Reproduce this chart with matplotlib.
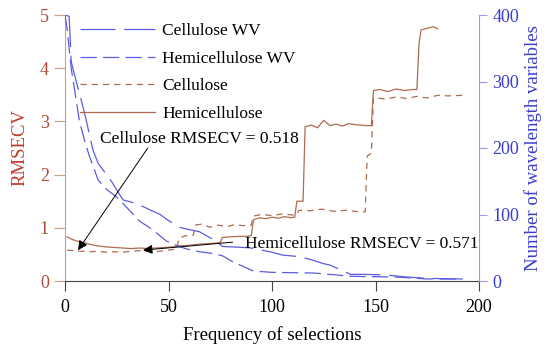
import numpy as np
from matplotlib import pyplot as plt

plt.rcParams['font.family'] = ['Liberation Serif', 'DejaVu Serif']

# RMSECV curves (left axis)
hemi_f = [1, 3, 5, 7, 10, 13, 16, 20, 24, 28, 32, 36, 40, 44, 48, 52, 56, 60, 64, 68, 72, 75,
          76, 80, 84, 88, 90, 91, 94, 97, 100, 103, 106, 109, 111, 112, 115, 116, 119, 122, 125,
          128, 131, 134, 137, 140, 143, 146, 148, 149, 152, 156, 160, 164, 168, 170, 171, 172,
          175, 178, 180]
hemi_r = [0.83, 0.79, 0.76, 0.74, 0.71, 0.68, 0.66, 0.64, 0.63, 0.62, 0.61, 0.62, 0.61, 0.62,
          0.63, 0.64, 0.66, 0.67, 0.69, 0.70, 0.71, 0.72, 0.82, 0.83, 0.84, 0.84, 0.85, 1.15,
          1.19, 1.17, 1.20, 1.18, 1.21, 1.19, 1.20, 1.50, 1.50, 2.90, 2.93, 2.88, 3.02, 2.92,
          2.95, 2.91, 2.96, 2.94, 2.93, 2.92, 2.92, 3.58, 3.60, 3.56, 3.61, 3.58, 3.60, 3.60,
          4.45, 4.72, 4.75, 4.78, 4.74]
cell_f = [1, 4, 8, 12, 16, 20, 24, 28, 32, 36, 40, 44, 48, 52, 54, 55, 58, 62, 63, 66, 70, 74,
          78, 82, 86, 90, 91, 95, 100, 105, 110, 112, 113, 118, 124, 130, 136, 142, 145, 146,
          148, 149, 155, 160, 165, 170, 175, 180, 185, 192]
cell_r = [0.58, 0.57, 0.56, 0.55, 0.56, 0.54, 0.55, 0.54, 0.56, 0.57, 0.56, 0.55, 0.57, 0.59,
          0.60, 0.80, 0.85, 0.86, 1.05, 1.07, 1.01, 1.05, 1.02, 1.06, 1.04, 1.05, 1.22, 1.25,
          1.23, 1.26, 1.24, 1.25, 1.33, 1.32, 1.35, 1.31, 1.33, 1.30, 1.30, 2.35, 2.40, 3.45,
          3.42, 3.46, 3.43, 3.47, 3.44, 3.49, 3.48, 3.49]

# number of wavelength variables (right axis)
cwv_f = [0, 2, 3, 5, 8, 10, 13.5, 16, 22, 28, 35, 41, 46, 49, 55, 59, 65, 73, 76, 89, 99, 105,
         112, 118, 125, 128, 138, 145, 155, 165, 175, 192]
cwv_n = [400, 398, 330, 305, 270, 245, 197, 177, 152, 122, 116, 107, 100, 93, 81, 78, 74, 60,
         52, 50, 44, 39, 37, 33, 26, 24, 10, 10, 9, 6, 4, 3]
hwv_f = [0, 1, 3, 5, 7, 10, 12, 16, 20, 25, 30, 36, 42, 49, 55, 59, 65, 70, 76, 81, 86, 91,
         100, 120, 139, 160, 175, 192]
hwv_n = [400, 380, 320, 280, 240, 205, 186, 152, 138, 126, 110, 90, 78, 60, 52, 48, 44, 42,
         38, 29, 22, 15, 13, 12, 7, 6, 3, 3]

red = '#b06a50'
blue = '#5c5ce0'

fig = plt.figure(figsize=(5.5, 3.48), dpi=100)
ax = fig.add_axes([65/550, 67/348, 414/550, 266/348])
ax2 = ax.twinx()

l3, = ax.plot(cell_f, cell_r, color=red, lw=0.9, dashes=(5, 4), label='Cellulose')
l4, = ax.plot(hemi_f, hemi_r, color=red, lw=0.9, label='Hemicellulose')
l1, = ax2.plot(cwv_f, cwv_n, color=blue, lw=0.9, dashes=(28, 7), label='Cellulose WV')
l2, = ax2.plot(hwv_f, hwv_n, color=blue, lw=0.9, dashes=(13, 5), label='Hemicellulose WV')

ax.set_xlim(0, 200)
ax.set_ylim(0, 5)
ax2.set_ylim(0, 400)
ax.set_xticks([0, 50, 100, 150, 200])
ax.set_yticks([0, 1, 2, 3, 4, 5])
ax2.set_yticks([0, 100, 200, 300, 400])

for a in (ax, ax2):
    a.spines['top'].set_visible(False)
ax.spines['right'].set_visible(False)
ax2.spines['left'].set_visible(False)
ax2.spines['bottom'].set_visible(False)
ax.spines['left'].set_color('#c8a08c')
ax.spines['bottom'].set_color('#444444')
ax2.spines['right'].set_color('#9a9aee')

ax.tick_params(axis='x', direction='out', length=7, width=0.8, colors='#444444',
               labelsize=13, labelcolor='black', pad=6)
ax.tick_params(axis='y', direction='out', length=8, width=0.8, colors='#c8a08c',
               labelsize=13, labelcolor='#b04a3a')
ax2.tick_params(axis='y', direction='out', length=6, width=0.8, colors='#9a9aee',
                labelsize=13, labelcolor='#3b3bd0')

ax.set_xlabel('Frequency of selections', fontsize=13.5, labelpad=7)
ax.set_ylabel('RMSECV', fontsize=13.5, color='#c0392b', labelpad=8)
ax2.set_ylabel('Number of wavelength variables', fontsize=13.5, color='#3b3bd0', labelpad=4)

ax2.legend(handles=[l1, l2, l3, l4], loc='upper left', bbox_to_anchor=(0.036, 0.97),
           frameon=False, fontsize=12.5, handlelength=4.3, handletextpad=0.45,
           labelspacing=0.66, borderpad=0, borderaxespad=0)

ax2.text(17, 2.66 * 80, 'Cellulose RMSECV = 0.518', fontsize=12.5, ha='left', va='center')
ax2.annotate('', xy=(6.3, 0.58 * 80), xytext=(40, 2.5 * 80),
             arrowprops=dict(arrowstyle='-|>', color='black', lw=0.7,
                             mutation_scale=14, shrinkA=0, shrinkB=0))
ax2.text(87, 0.70 * 80, 'Hemicellulose RMSECV = 0.571', fontsize=12.5, ha='left', va='center')
ax2.annotate('', xy=(37.7, 0.58 * 80), xytext=(81, 0.73 * 80),
             arrowprops=dict(arrowstyle='-|>', color='black', lw=0.7,
                             mutation_scale=14, shrinkA=0, shrinkB=0))

fig.savefig('out.png', dpi=100)
